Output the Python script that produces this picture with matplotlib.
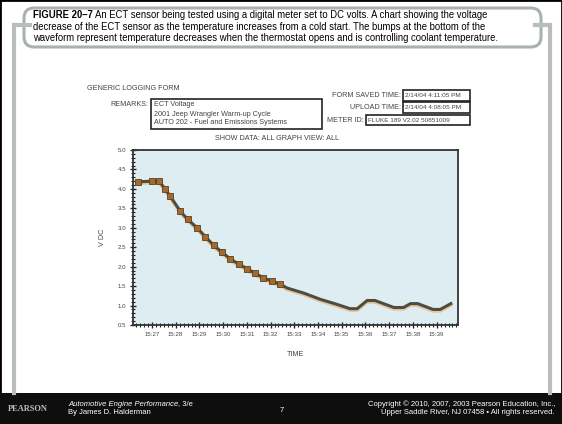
import numpy as np
import matplotlib.pyplot as plt
from matplotlib.patches import FancyBboxPatch, Rectangle
from matplotlib.ticker import MultipleLocator, FixedLocator

plt.rcParams['font.family'] = ['Liberation Sans', 'DejaVu Sans']

# datos (minutos despues de las 15:00, voltios)
tiempo = [26.4, 27.0, 27.3, 27.55, 27.76, 28.2, 28.5, 28.9, 29.25, 29.6, 29.95,
          30.3, 30.65, 31.0, 31.35, 31.7, 32.05, 32.4, 32.7, 33.4, 34.1, 34.8,
          35.35, 35.65, 36.07, 36.4, 37.2, 37.6, 37.9, 38.2, 38.85, 39.15, 39.6]
voltaje = [4.18, 4.2, 4.2, 4.0, 3.82, 3.42, 3.22, 3.0, 2.77, 2.55, 2.37,
           2.2, 2.07, 1.95, 1.83, 1.71, 1.63, 1.55, 1.45, 1.32, 1.16, 1.03,
           0.92, 0.92, 1.13, 1.13, 0.95, 0.95, 1.05, 1.05, 0.9, 0.9, 1.05]
minutos = list(range(27, 40))
etiquetas_x = ['15:%02d' % m for m in minutos]
etiquetas_y = [0.5, 1.0, 1.5, 2.0, 2.5, 3.0, 3.5, 4.0, 4.5, 5.0]

figura = 'FIGURE 20\u20137'
lineas = ['An ECT sensor being tested using a digital meter set to DC volts. A chart showing the voltage',
          'decrease of the ECT sensor as the temperature increases from a cold start. The bumps at the bottom of the',
          'waveform represent temperature decreases when the thermostat opens and is controlling coolant temperature.']
remarks = ['ECT Voltage', '2001 Jeep Wrangler Warm-up Cycle', 'AUTO 202 - Fuel and Emissions Systems']
info = [('FORM SAVED TIME:', '2/14/04 4:11:05 PM'),
        ('UPLOAD TIME:', '2/14/04 4:08:05 PM'),
        ('METER ID:', 'FLUKE 189 V2.02 50851009')]

W, H = 562, 424
fig = plt.figure(figsize=(W / 100, H / 100), dpi=100)
fig.patch.set_facecolor('white')
rend = fig.canvas.get_renderer()

def px(x, y):
    return x / W, 1 - y / H

def ancho(t):
    return t.get_window_extent(renderer=rend).width

gris = '#444444'
fs_form = 5.2

# marco de la diapositiva
fig.patches.append(Rectangle((0, 0), 1, 1, transform=fig.transFigure, fill=False,
                             ec='black', lw=2))
marco = '#b8bec0'
for xs, ys in [([14, 14], [25, 393]), ([14, 30], [25, 25]),
               ([550, 550], [25, 393]), ([535, 550], [25, 25])]:
    fig.add_artist(plt.Line2D([x / W for x in xs], [1 - y / H for y in ys], color=marco,
                              lw=3, transform=fig.transFigure))
caja = FancyBboxPatch(px(24, 47), 517 / W, 39 / H, boxstyle='round,pad=0,rounding_size=0.018',
                      transform=fig.transFigure, fc='white', ec='#a9b1b2', lw=2.2,
                      mutation_aspect=W / H)
fig.patches.append(caja)
fs_tit = 6.85
t0 = fig.text(*px(33, 15), figura, fontsize=fs_tit, fontweight='bold', va='center', ha='left')
x1 = 33 + ancho(t0) + 2
fig.text(*px(x1, 15), lineas[0], fontsize=fs_tit, va='center', ha='left')
fig.text(*px(33, 26.5), lineas[1], fontsize=fs_tit, va='center', ha='left')
fig.text(*px(33, 38), lineas[2], fontsize=fs_tit, va='center', ha='left')

# pie de pagina
fs_pie = 5.5
fig.patches.append(Rectangle((0, 0), 1, 31 / H, transform=fig.transFigure, fc='#0e0e0e', ec='none'))
fig.text(*px(8, 409), 'PEARSON', fontsize=6, fontweight='bold', color='#bfbfbf',
         family=['Liberation Serif'], va='center')
t1 = fig.text(*px(68, 404), 'Automotive Engine Performance', fontsize=fs_pie, style='italic',
              color='white', va='center')
fig.text(*px(68 + ancho(t1), 404), ', 3/e', fontsize=fs_pie, color='white', va='center')
fig.text(*px(68, 413), 'By James D. Halderman', fontsize=fs_pie, color='white', va='center')
fig.text(*px(280, 410), '7', fontsize=fs_pie, color='white', va='center')
fig.text(*px(555, 404), 'Copyright \u00a9 2010, 2007, 2003 Pearson Education, Inc.,', fontsize=fs_pie,
         color='white', va='center', ha='right')
fig.text(*px(555, 413), 'Upper Saddle River, NJ 07458 \u2022 All rights reserved.', fontsize=fs_pie,
         color='white', va='center', ha='right')

# formulario
fig.text(*px(87, 88), 'GENERIC LOGGING FORM', fontsize=fs_form, color=gris, va='center')
fig.text(*px(148, 105), 'REMARKS:', fontsize=fs_form, color=gris, va='center', ha='right')
fig.patches.append(Rectangle(px(151, 129), 171 / W, 30 / H, transform=fig.transFigure,
                             fill=False, ec='#222222', lw=1.2))
for i, r in enumerate(remarks):
    fig.text(*px(154, 105 + 9 * i), r, fontsize=fs_form, color=gris, va='center')
cajas = [(403, 95.5), (403, 107.5), (366, 120.5)]
for (lab, val), (bx, by) in zip(info, cajas):
    fig.text(*px(bx - 2, by), lab, fontsize=fs_form, color=gris, va='center', ha='right')
    fig.patches.append(Rectangle(px(bx, by + 5), (470 - bx) / W, 10 / H,
                                 transform=fig.transFigure, fill=False, ec='#222222', lw=1.2))
    fig.text(*px(bx + 2, by), val, fontsize=4.6, color=gris, va='center')
fig.text(*px(277, 138), 'SHOW DATA: ALL GRAPH VIEW: ALL', fontsize=fs_form, color=gris,
         va='center', ha='center')

# grafico
ax = fig.add_axes([133 / W, 1 - 325 / H, 325 / W, 175 / H])
ax.set_facecolor('#deedf1')
ax.plot(tiempo, [v - 0.04 for v in voltaje], color='#e9b57a', lw=2.5, alpha=0.7)
ax.plot(tiempo, voltaje, color='#4d4d40', lw=2.2)
temprano = [i for i, t in enumerate(tiempo) if t < 32.5]
ax.plot([tiempo[i] for i in temprano], [voltaje[i] for i in temprano], 's', ms=4,
        color='#a3692f', mec='#5a4020', mew=0.6)
ax.set_xlim(26.2, 39.9)
ax.set_ylim(0.5, 5.0)
ax.xaxis.set_major_locator(FixedLocator(minutos))
ax.set_xticklabels(etiquetas_x)
ax.xaxis.set_minor_locator(MultipleLocator(1 / 6))
ax.yaxis.set_major_locator(FixedLocator(etiquetas_y))
ax.set_yticklabels(['%.1f' % v for v in etiquetas_y])
ax.yaxis.set_minor_locator(MultipleLocator(0.1))
ax.tick_params(axis='both', which='major', labelsize=4.4, labelcolor=gris, length=4,
               width=1, direction='inout', color='#222222', pad=3)
ax.tick_params(axis='both', which='minor', length=2.5, width=0.8, direction='inout',
               color='#222222')
for s in ax.spines.values():
    s.set_color('#333333')
    s.set_linewidth(1.3)
ax.set_ylabel('V DC', fontsize=fs_form, color=gris, labelpad=8)
ax.set_xlabel('TIME', fontsize=fs_form, color=gris, labelpad=10)

fig.savefig('out.png', dpi=100)
